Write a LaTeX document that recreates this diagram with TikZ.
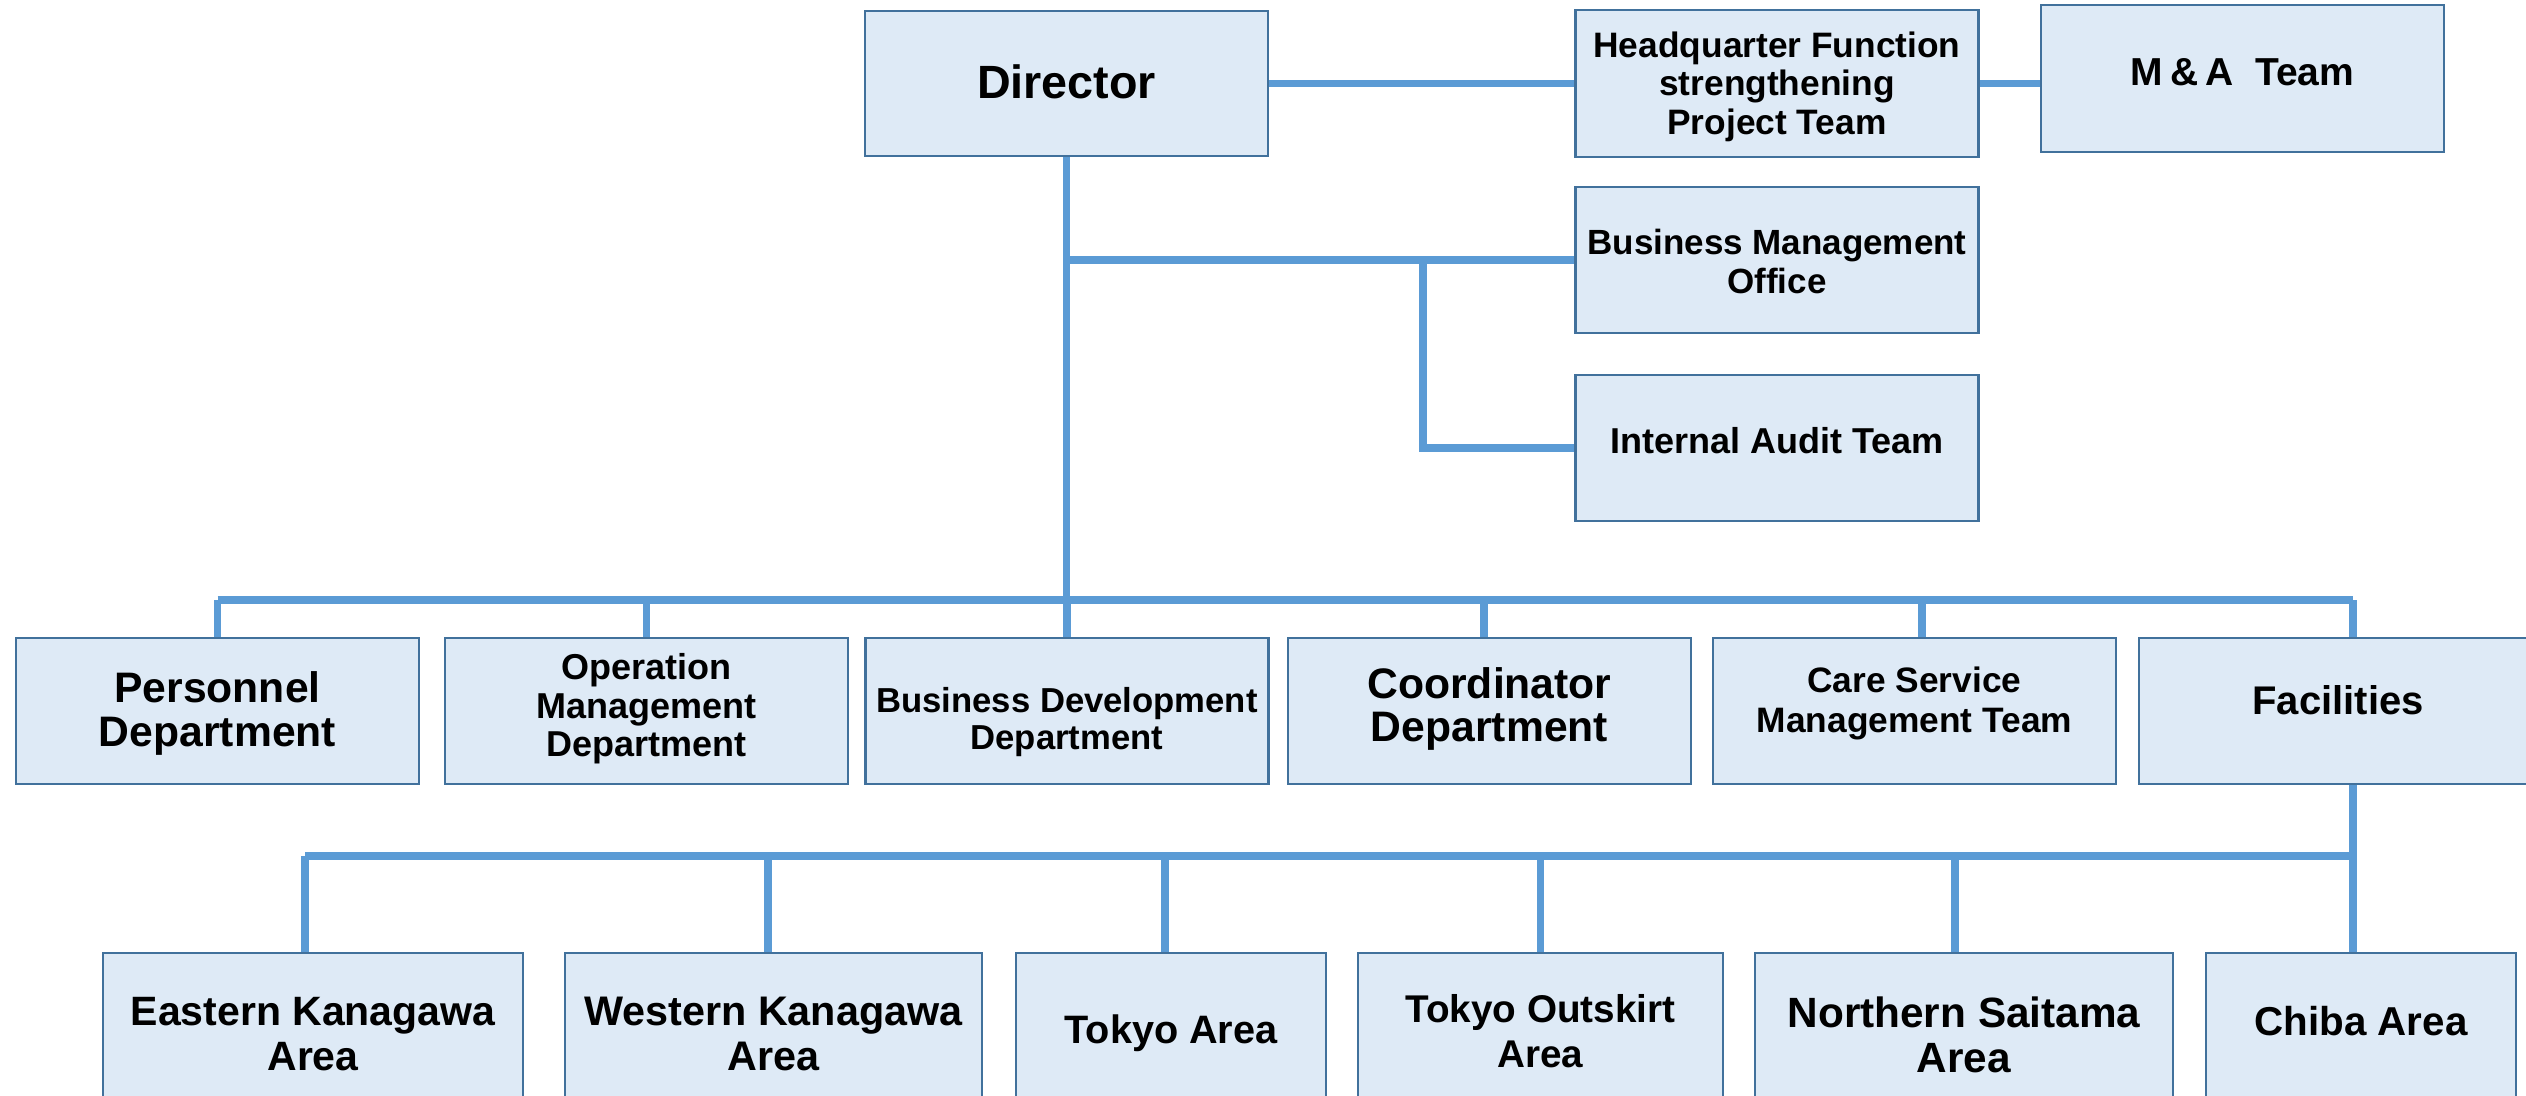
\documentclass[tikz,border=0pt]{standalone}
\usepackage{fontspec}
\setmainfont{Liberation Sans}
\usetikzlibrary{backgrounds}
\definecolor{boxfill}{HTML}{DEEAF6}
\definecolor{boxline}{HTML}{41719C}
\definecolor{conn}{HTML}{5B9BD5}
% #1 raise, #2 font size, #3 line spacing, #4 lines
\newcommand{\tx}[4]{\raisebox{\dimexpr #1-#2/4-1.2pt\relax}[0pt][0pt]{\fontsize{#2}{#3}\selectfont\begin{tabular}{@{}c@{}}#4\end{tabular}}}
\tikzset{
  orgbox/.style={draw=boxline, fill=boxfill, line width=0.7pt, inner sep=0pt,
    align=center, font=\bfseries, minimum width=120.9pt, minimum height=43.8pt},
  link/.style={draw=conn, line width=2.3pt},
}
\begin{document}
\begin{tikzpicture}[x=0.3pt, y=-0.3pt]
\useasboundingbox (0,0) rectangle (2526,1095);
\clip (0,0) rectangle (2526,1095);
% top
\node[orgbox, minimum height=43.5pt] (dir) at (1066.5,83.5) {\tx{-0.3pt}{14pt}{16pt}{Director}};
\node[orgbox, minimum height=44.1pt] (hq) at (1777,83.5) {\tx{-0.3pt}{10.6pt}{11.6pt}{Headquarter Function\\strengthening\\Project Team}};
\node[orgbox, minimum height=44.1pt] (ma) at (2242.5,78.5) {\tx{1.7pt}{11.7pt}{13pt}{M\hspace{0.18em}\&\hspace{0.18em}A\hspace{0.55em}Team}};
\node[orgbox] (bmo) at (1777,260) {\tx{-0.7pt}{10.5pt}{11.6pt}{Business Management\\Office}};
\node[orgbox] (ia) at (1777,448) {\tx{1.9pt}{10.8pt}{12pt}{Internal Audit Team}};
% row 2
\node[orgbox] (pers) at (217.5,711) {\tx{0pt}{12.8pt}{13pt}{Personnel\\Department}};
\node[orgbox] (oper) at (646.5,711) {\tx{1.3pt}{10.8pt}{11.6pt}{Operation\\Management\\Department}};
\node[orgbox] (bizdev) at (1067,711) {\tx{-2.4pt}{10.4pt}{11.1pt}{Business Development\\Department}};
\node[orgbox] (coord) at (1489.5,711) {\tx{1.4pt}{12.8pt}{13pt}{Coordinator\\Department}};
\node[orgbox] (care) at (1914.5,711) {\tx{3.1pt}{10.6pt}{12pt}{Care Service\\Management Team}};
\node[orgbox, minimum width=128.4pt] (fac) at (2353,711) {\hspace*{-9pt}\tx{2.7pt}{12pt}{13pt}{Facilities}};
% row 3
\node[orgbox, minimum width=126pt] (east) at (313,1026) {\tx{-2.7pt}{12.3pt}{13.5pt}{Eastern Kanagawa\\Area}};
\node[orgbox, minimum width=125.1pt] (west) at (773.5,1026) {\tx{-2.7pt}{12.4pt}{13.5pt}{Western Kanagawa\\Area}};
\node[orgbox, minimum width=93pt] (tokyo) at (1171,1026) {\tx{-1.3pt}{11.9pt}{13.5pt}{Tokyo Area}};
\node[orgbox, minimum width=109.5pt] (outsk) at (1540.5,1026) {\tx{-1.9pt}{11.6pt}{13.5pt}{Tokyo Outskirt\\Area}};
\node[orgbox, minimum width=125.4pt] (north) at (1964,1026) {\tx{-3.2pt}{12.7pt}{13.5pt}{Northern Saitama\\Area}};
\node[orgbox, minimum width=93pt] (chiba) at (2361,1026) {\tx{1.2pt}{12.1pt}{13.5pt}{Chiba Area}};
\coordinate (b2) at (1067,600);
\coordinate (b3) at (2353,856);
\coordinate (j) at (1423,262);
\begin{scope}[on background layer]
  \draw[link] (dir.east) -- (hq.west);
  \draw[link] (hq.east) -- (ma.west |- hq.east);
  \draw[link] (dir.south) -- (dir.south |- b2);
  \draw[link] (dir.south |- bmo.west) -- (bmo.west);
  \draw[link] (j) |- (ia.west);
  \draw[link] (pers.north |- b2) -- (fac.north |- b2);
  \foreach \n/\s in {pers/0pt,oper/0pt,bizdev/0pt,coord/-1.65pt,care/2.25pt,fac/0pt}
    \draw[link] ([xshift=\s]\n.north) -- ([xshift=\s]\n.north |- b2);
  \draw[link] (fac.south) -- (fac.south |- chiba.north);
  \draw[link] ([xshift=-2.4pt]east.north |- b3) -- (b3);
  \foreach \n/\s in {east/-2.4pt,west/-1.65pt,tokyo/-1.8pt,outsk/0pt,north/-2.7pt}
    \draw[link] ([xshift=\s]\n.north) -- ([xshift=\s]\n.north |- b3);
\end{scope}
\end{tikzpicture}
\end{document}
